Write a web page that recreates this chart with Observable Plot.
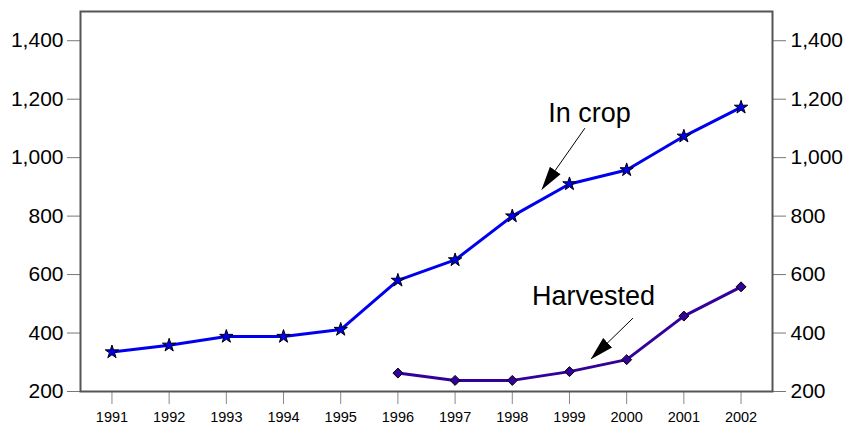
<!DOCTYPE html>
<html>
<head>
<meta charset="utf-8">
<script src="https://cdn.jsdelivr.net/npm/d3@7"></script>
<script src="https://cdn.jsdelivr.net/npm/@observablehq/plot@0.6"></script>
<style>
  html, body { margin: 0; padding: 0; background: #fff; }
  #chart { width: 852px; height: 425px; }
  svg { font-family: "Liberation Sans", Arial, sans-serif; }
</style>
</head>
<body>
<div id="chart"></div>
<script>
const years = [1991, 1992, 1993, 1994, 1995, 1996, 1997, 1998, 1999, 2000, 2001, 2002];
const inCrop = [335, 358, 388, 388, 412, 580, 650, 800, 910, 958, 1073, 1172];
const harvestedYears = [1996, 1997, 1998, 1999, 2000, 2001, 2002];
const harvested = [263, 238, 238, 268, 309, 458, 558];
const yTicks = [200, 400, 600, 800, 1000, 1200, 1400];

const labelText = ["In crop", "Harvested"];
const labelX = [1999.35, 1999.42];
const labelY = [1151, 524];
const arrowX1 = [1999.27, 2000.11];
const arrowY1 = [1101, 451];
const arrowX2 = [1998.52, 1999.38];
const arrowY2 = [892, 312];

const cropData = years.map((y, i) => ({year: y, value: inCrop[i]}));
const harvData = harvestedYears.map((y, i) => ({year: y, value: harvested[i]}));
const labels = labelText.map((t, i) => ({text: t, x: labelX[i], y: labelY[i]}));
const arrows = arrowX1.map((x, i) => ({x1: x, y1: arrowY1[i], x2: arrowX2[i], y2: arrowY2[i]}));

const cropColor = "#0000ee";
const harvColor = "#330099";

const svg = Plot.plot({
  width: 852,
  height: 425,
  marginLeft: 80,
  marginRight: 80,
  marginTop: 11,
  marginBottom: 34,
  style: {fontFamily: "Liberation Sans, Arial, sans-serif", background: "#fff"},
  x: {type: "linear", domain: [1990.45, 2002.55]},
  y: {domain: [200, 1500]},
  marks: [
    Plot.axisY(yTicks, {anchor: "left", tickSize: 13, tickPadding: 4, fontSize: 21, tickFormat: d3.format(","), label: null, stroke: "#777", color: "#000"}),
    Plot.axisY(yTicks, {anchor: "right", tickSize: 13, tickPadding: 5, fontSize: 21, tickFormat: d3.format(","), label: null, stroke: "#777", color: "#000"}),
    Plot.axisX(years, {anchor: "bottom", tickSize: 13, tickPadding: 7, fontSize: 14.5, tickFormat: d => String(d), label: null, stroke: "#888", color: "#000"}),
    Plot.line(cropData, {x: "year", y: "value", stroke: cropColor, strokeWidth: 3}),
    Plot.line(harvData, {x: "year", y: "value", stroke: harvColor, strokeWidth: 3}),
    Plot.dot(cropData, {x: "year", y: "value", symbol: "star", r: 4.2, fill: cropColor, stroke: "#000", strokeWidth: 1}),
    Plot.dot(harvData, {x: "year", y: "value", symbol: "diamond2", r: 4.5, fill: harvColor, stroke: "#000", strokeWidth: 1}),
    Plot.link(arrows, {x1: "x1", y1: "y1", x2: "x2", y2: "y2", stroke: "#000", strokeWidth: 1, markerEnd: "arrow"}),
    Plot.text(labels, {x: "x", y: "y", text: "text", fontSize: 27, fill: "#000"}),
    Plot.frame({stroke: "#555", strokeWidth: 2})
  ]
});

// make the annotation arrowheads filled triangles
svg.querySelectorAll("marker").forEach(m => {
  m.setAttribute("markerUnits", "userSpaceOnUse");
  m.setAttribute("viewBox", "0 -7 24 14");
  m.setAttribute("refX", "23");
  m.setAttribute("refY", "0");
  m.setAttribute("markerWidth", "24");
  m.setAttribute("markerHeight", "14");
  m.setAttribute("orient", "auto");
  while (m.firstChild) m.removeChild(m.firstChild);
  const p = document.createElementNS("http://www.w3.org/2000/svg", "path");
  p.setAttribute("d", "M0,-6.5L24,0L0,6.5Z");
  p.setAttribute("fill", "#000");
  p.setAttribute("stroke", "none");
  m.appendChild(p);
});

document.getElementById("chart").appendChild(svg);
</script>
</body>
</html>
